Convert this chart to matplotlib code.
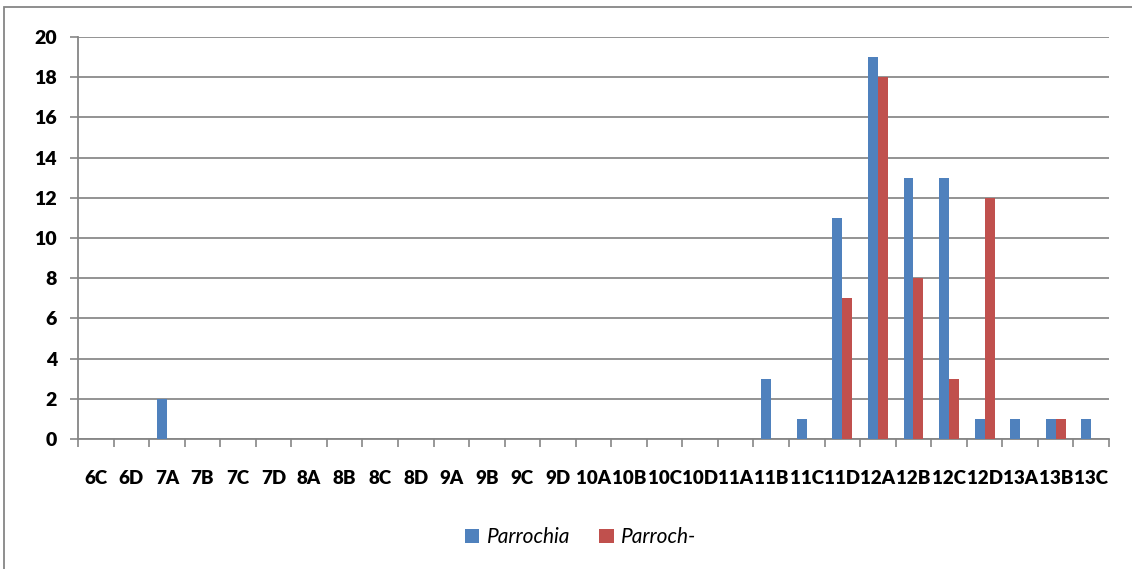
import numpy as np
import matplotlib
matplotlib.use("Agg")
import matplotlib.pyplot as plt
from matplotlib.patches import Rectangle

categories = ["6C", "6D", "7A", "7B", "7C", "7D", "8A", "8B", "8C", "8D",
              "9A", "9B", "9C", "9D", "10A", "10B", "10C", "10D", "11A", "11B",
              "11C", "11D", "12A", "12B", "12C", "12D", "13A", "13B", "13C"]
parrochia = [0, 0, 2, 0, 0, 0, 0, 0, 0, 0,
             0, 0, 0, 0, 0, 0, 0, 0, 0, 3,
             1, 11, 19, 13, 13, 1, 1, 1, 1]
parroch_dash = [0, 0, 0, 0, 0, 0, 0, 0, 0, 0,
                0, 0, 0, 0, 0, 0, 0, 0, 0, 0,
                0, 7, 18, 8, 3, 12, 0, 1, 0]

plt.rcParams['font.family'] = ['Lato', 'DejaVu Sans']

fig = plt.figure(figsize=(11.32, 5.69), dpi=100)
ax = fig.add_axes([0.0689, 0.2285, 0.9108, 0.7065])

x = np.arange(len(categories))
w = 0.28
ax.bar(x - w / 2, parrochia, w, color='#4F81BD', label='Parrochia', zorder=3)
ax.bar(x + w / 2, parroch_dash, w, color='#C0504D', label='Parroch-', zorder=3)

ax.set_xlim(-0.5, len(categories) - 0.5)
ax.set_ylim(0, 20)
ax.set_yticks(range(0, 21, 2))
ax.set_xticks(np.arange(len(categories) + 1) - 0.5, minor=False)
ax.set_xticklabels([])
ax.set_xticks(x, minor=True)
ax.set_xticklabels(categories, minor=True, fontsize=13.5, fontweight='heavy')
ax.tick_params(axis='x', which='minor', length=0, pad=22)
ax.tick_params(axis='x', which='major', length=6, color='#868686', width=1.2)
ax.tick_params(axis='y', length=6, color='#868686', width=1.2, pad=9,
               labelsize=14)
for lab in ax.get_yticklabels():
    lab.set_fontweight('heavy')

ax.grid(axis='y', color='#8a8a8a', linewidth=1.3, zorder=0)
for side in ['top', 'right']:
    ax.spines[side].set_visible(False)
for side in ['left', 'bottom']:
    ax.spines[side].set_color('#868686')
    ax.spines[side].set_linewidth(1.3)

leg = fig.legend(loc='center', bbox_to_anchor=(0.513, 0.056), ncol=2,
                 frameon=False, prop={'style': 'italic', 'size': 15},
                 handlelength=0.7, handleheight=0.7, handletextpad=0.35,
                 columnspacing=1.4)

# chart area border
fig.patches.append(Rectangle((4 / 1132, -0.1), 1.2, (569 - 7) / 569 + 0.1,
                             transform=fig.transFigure, fill=False,
                             edgecolor='#868686', linewidth=1.3))

fig.savefig('out.png', dpi=100)
